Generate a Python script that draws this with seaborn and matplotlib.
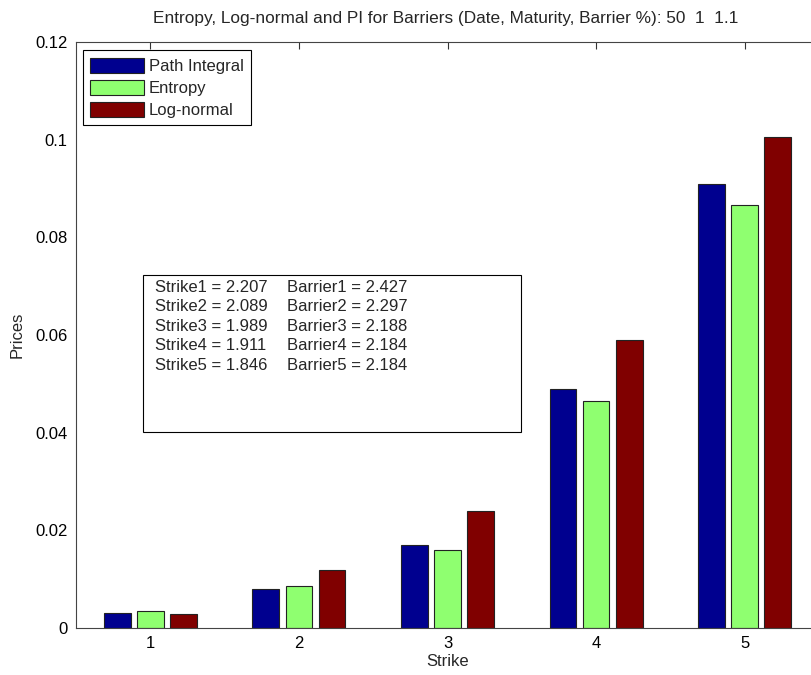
import pandas as pd
import matplotlib
matplotlib.use("Agg")
import matplotlib.pyplot as plt
import seaborn as sns

# Data
strikes = ["1", "2", "3", "4", "5"]
path_integral = [0.0031, 0.0080, 0.0170, 0.0489, 0.0909]
entropy = [0.0034, 0.0087, 0.0160, 0.0465, 0.0867]
log_normal = [0.0028, 0.0119, 0.0239, 0.0589, 0.1005]
series_names = ["Path Integral", "Entropy", "Log-normal"]

strike_vals = ["2.207", "2.089", "1.989", "1.911", "1.846"]
barrier_vals = ["2.427", "2.297", "2.188", "2.184", "2.184"]

colors = {
    "Path Integral": "#00008F",
    "Entropy": "#8FFF70",
    "Log-normal": "#800000",
}

sns.set_style("white")
plt.rcParams["font.family"] = ["Liberation Sans", "DejaVu Sans"]

df = pd.DataFrame({
    "Strike": strikes * 3,
    "Price": path_integral + entropy + log_normal,
    "Series": [s for s in series_names for _ in strikes],
})

fig = plt.figure(figsize=(8.12, 6.75), dpi=100)
ax = fig.add_axes([76 / 812, 47 / 675, 743 / 812, 586 / 675])

sns.barplot(data=df, x="Strike", y="Price", hue="Series", hue_order=series_names,
            palette=colors, width=0.667, gap=0.19, edgecolor="#222222",
            linewidth=0.8, saturation=1, ax=ax)

ax.set_xlim(-0.5, 4.5)
ax.set_ylim(0, 0.12)
ax.set_yticks([0, 0.02, 0.04, 0.06, 0.08, 0.1, 0.12])
ax.set_yticklabels(["0", "0.02", "0.04", "0.06", "0.08", "0.1", "0.12"])
ax.tick_params(direction="in", length=5, width=0.8, top=True, right=True,
               labelsize=12, colors="#333333", labelcolor="black", pad=6)
for sp in ax.spines.values():
    sp.set_visible(True)
    sp.set_color("#444444")
    sp.set_linewidth(0.8)

ax.set_xlabel("Strike", fontsize=12, labelpad=2)
ax.set_ylabel("Prices", fontsize=12, labelpad=8)
ax.set_title("Entropy, Log-normal and PI for Barriers (Date, Maturity, Barrier %): 50  1  1.1",
             fontsize=12.4, pad=14, x=0.497)

leg = ax.legend(loc="upper left", bbox_to_anchor=(0.009, 0.986), fontsize=12,
                frameon=True, fancybox=False, edgecolor="black", framealpha=1,
                handlelength=3.2, handleheight=1.0, handletextpad=0.3,
                labelspacing=0.35, borderpad=0.45, borderaxespad=0)
leg.get_frame().set_linewidth(0.8)

# annotation box with strike / barrier values
ax.add_patch(plt.Rectangle((0.0902, 0.3345), 0.5088, 0.2679, transform=ax.transAxes,
                           fill=False, edgecolor="black", linewidth=0.8, zorder=5))
left_col = "\n".join(f"Strike{i + 1} = {v}" for i, v in enumerate(strike_vals))
right_col = "\n".join(f"Barrier{i + 1} = {v}" for i, v in enumerate(barrier_vals))
ax.text(0.1063, 0.594, left_col, transform=ax.transAxes, fontsize=12,
        va="top", ha="left", linespacing=1.37)
ax.text(0.284, 0.594, right_col, transform=ax.transAxes, fontsize=12,
        va="top", ha="left", linespacing=1.37)

fig.savefig("out.png", dpi=100, facecolor="white")
